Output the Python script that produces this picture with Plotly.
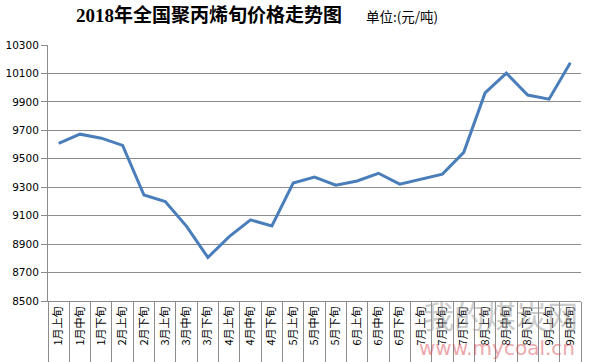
import plotly.graph_objects as go

categories = ["1月上旬", "1月中旬", "1月下旬", "2月上旬", "2月下旬",
              "3月上旬", "3月中旬", "3月下旬", "4月上旬", "4月中旬", "4月下旬",
              "5月上旬", "5月中旬", "5月下旬", "6月上旬", "6月中旬", "6月下旬",
              "7月上旬", "7月中旬", "7月下旬", "8月上旬", "8月中旬", "8月下旬",
              "9月上旬", "9月中旬"]
prices = [9608, 9673, 9645, 9594, 9245,
          9200, 9025, 8806, 8953, 9070, 9028,
          9330, 9372, 9314, 9344, 9398, 9322,
          9356, 9392, 9545, 9963, 10102, 9948,
          9919, 10175]
y_ticks = [8500, 8700, 8900, 9100, 9300, 9500, 9700, 9900, 10100, 10300]

fig = go.Figure()
fig.add_trace(go.Scatter(
    x=categories, y=prices, mode="lines",
    line=dict(color="#4a7ebb", width=3),
    hoverinfo="x+y", showlegend=False,
))

fig.update_layout(
    width=591, height=362,
    margin=dict(l=48, r=10, t=45, b=61, autoexpand=False),
    paper_bgcolor="white", plot_bgcolor="white",
    font=dict(family="Noto Sans CJK SC", color="black"),
    xaxis=dict(
        type="category", tickangle=-90, automargin=False,
        tickfont=dict(size=11, family="Noto Sans CJK SC", color="black"),
        ticks="outside", ticklen=61, tickcolor="#8c8c8c", tickwidth=1,
        tickson="boundaries", showgrid=False,
        showline=True, linecolor="#8c8c8c", linewidth=1,
        range=[-0.5, len(categories) - 0.5],
        fixedrange=True,
    ),
    yaxis=dict(
        range=[8500, 10300], tickvals=y_ticks, automargin=False,
        ticktext=[str(v) for v in y_ticks],
        tickfont=dict(size=10.5, family="DejaVu Sans", color="black"),
        showgrid=True, gridcolor="#8c8c8c", gridwidth=1,
        showline=True, linecolor="#8c8c8c", linewidth=1,
        ticks="outside", ticklen=6, tickcolor="#8c8c8c",
        zeroline=False, fixedrange=True,
    ),
    annotations=[
        dict(text="<b>2018年全国聚丙烯旬价格走势图</b>", xref="paper", yref="paper",
             x=(208.5 - 48) / 533, y=(301 - 15) / 256, xanchor="center", yanchor="middle",
             showarrow=False,
             font=dict(size=19, family="Liberation Serif, Noto Sans CJK SC", color="black")),
        dict(text="单位:(元/吨)", xref="paper", yref="paper",
             x=(401.5 - 48) / 533, y=(301 - 16) / 256, xanchor="center", yanchor="middle",
             showarrow=False,
             font=dict(size=13.5, family="Noto Sans CJK SC", color="black")),
        dict(text="我的煤炭网", xref="paper", yref="paper",
             x=(500 - 48) / 533, y=(301 - 314) / 256, xanchor="center", yanchor="middle",
             showarrow=False, opacity=0.5,
             font=dict(size=31, family="Noto Sans CJK SC", color="#9a9a9a")),
        dict(text="www.mycoal.cn", xref="paper", yref="paper",
             x=(497 - 48) / 533, y=(301 - 348) / 256, xanchor="center", yanchor="middle",
             showarrow=False, opacity=0.5,
             font=dict(size=20, family="DejaVu Sans", color="#d9535b")),
    ],
)

fig.write_html("out.html", config={"displayModeBar": False},
               post_script="document.body.style.margin='0px';")
